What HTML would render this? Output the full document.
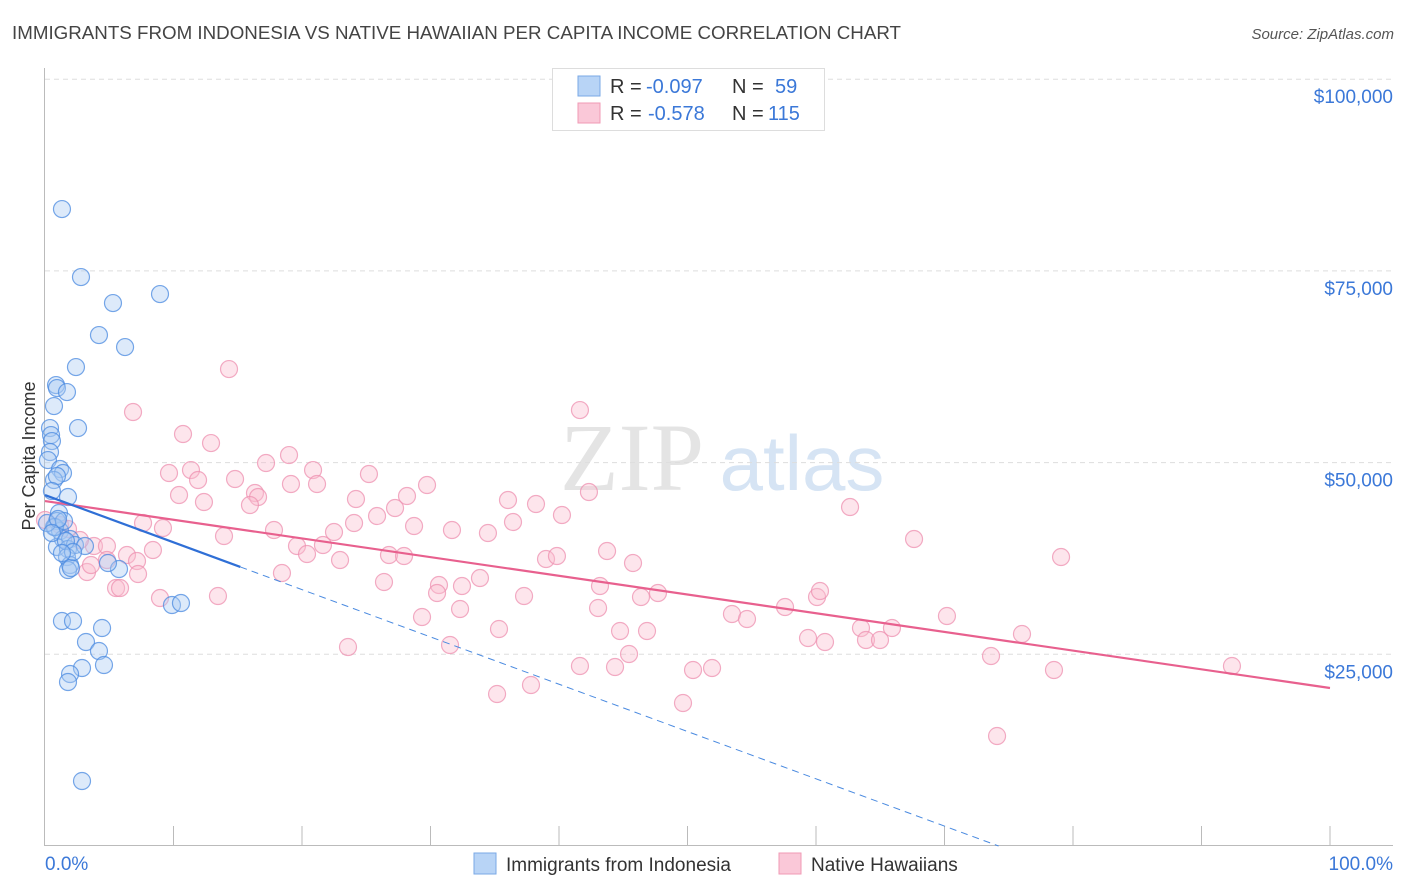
<!DOCTYPE html>
<html><head><meta charset="utf-8"><style>
body{margin:0;background:#fff;font-family:"Liberation Sans",sans-serif;}
svg{display:block}
</style></head><body>
<svg id="chart" width="1406" height="892">
<text x="12" y="39" font-size="18.75" fill="#444">IMMIGRANTS FROM INDONESIA VS NATIVE HAWAIIAN PER CAPITA INCOME CORRELATION CHART</text>
<text x="1394" y="39" font-size="15" fill="#555" font-style="italic" text-anchor="end">Source: ZipAtlas.com</text>
<g>
<text x="632" y="490" font-size="96" fill="#e4e4e4" font-family="Liberation Serif,serif" text-anchor="middle">ZIP</text>
<text x="802" y="490" font-size="78" fill="#d6e4f4" text-anchor="middle">atlas</text>
</g>
<g id="grid"></g>
<g id="axes"></g>
<text x="35" y="456" font-size="18" fill="#333" text-anchor="middle" transform="rotate(-90 35 456)">Per Capita Income</text>
<g id="pink"></g>
<g id="blue"></g>
<g id="lines"></g>
<g>
<rect x="552.5" y="68.5" width="272" height="62" fill="#fff" stroke="#ddd"/>
<rect x="578" y="76" width="22" height="20" fill="#b8d4f6" stroke="#7aa8e6"/>
<rect x="578" y="103" width="22" height="20" fill="#fac8d8" stroke="#f09ab5"/>
<text x="610" y="93" font-size="20" fill="#333">R = <tspan x="646" fill="#3b78d8">-0.097</tspan><tspan x="732">N = </tspan><tspan x="775" fill="#3b78d8">59</tspan></text>
<text x="610" y="120" font-size="20" fill="#333">R = <tspan x="648" fill="#3b78d8">-0.578</tspan><tspan x="732">N = </tspan><tspan x="768" fill="#3b78d8">115</tspan></text>
</g>
<g>
<rect x="474" y="853" width="22" height="21" fill="#b8d4f6" stroke="#7aa8e6"/>
<text x="506" y="871" font-size="19" fill="#333">Immigrants from Indonesia</text>
<rect x="779" y="853" width="22" height="21" fill="#fac8d8" stroke="#f09ab5"/>
<text x="811" y="871" font-size="19" fill="#333">Native Hawaiians</text>
</g>
</svg>
<script>
const blueX=[1.32,2.80,5.29,8.95,4.20,6.23,2.41,0.86,0.93,1.71,0.70,2.57,0.39,0.47,0.54,0.39,0.23,1.17,1.40,0.70,0.93,0.54,1.79,1.09,0.93,0.70,1.17,1.40,1.95,0.93,1.79,2.33,3.11,1.71,1.95,1.79,2.02,5.76,4.90,9.88,10.58,1.32,2.18,4.44,3.19,4.20,4.59,2.88,1.95,1.79,2.88,0.78,0.16,1.48,1.01,0.54,1.63,2.18,1.32];
const blueY=[83065,74198,70807,71981,66634,65070,62462,60114,59723,59202,57376,54507,54507,53594,52812,51378,50334,49161,48639,47726,48248,46292,45510,43423,42380,41598,41076,40033,40033,38990,38729,39250,39120,37686,36642,35990,36251,36121,36903,31426,31687,29340,29340,28427,26602,25428,23602,23211,22429,21386,8476,41598,42119,42380,42641,40815,39772,38338,38207];
const pinkX=[14.32,6.85,10.74,12.92,41.63,9.65,11.36,14.79,17.20,18.99,20.86,25.21,21.17,10.43,12.37,11.91,16.34,16.58,15.95,19.14,24.20,25.84,24.05,27.24,28.17,29.73,28.72,31.67,36.03,38.21,36.42,40.23,42.33,34.47,62.65,67.63,79.07,7.63,9.18,0,1.17,1.79,3.81,4.82,8.40,6.38,7.16,3.27,7.24,5.53,5.84,8.95,13.46,13.93,17.82,19.61,20.39,21.63,22.49,22.96,18.44,26.77,27.94,26.38,30.66,30.51,32.45,33.85,32.30,29.34,35.33,37.28,38.99,39.84,43.74,45.76,43.19,43.04,44.75,46.38,46.85,47.70,45.45,41.63,44.36,35.18,37.82,31.52,23.58,53.46,54.63,57.59,60.08,60.31,59.38,60.70,63.50,63.89,64.98,65.91,70.19,76.03,50.43,51.91,49.65,73.62,74.09,78.52,92.37,3.58,2.72,4.82];
const pinkY=[62201,56594,53725,52551,56854,48639,49030,47857,49943,50986,49030,48509,47205,45770,44858,47726,46031,45510,44466,47205,45249,43032,42119,44075,45640,47074,41728,41206,45118,44597,42250,43162,46162,40815,44206,40033,37686,42119,41467,42510,41858,41337,39120,39120,38598,37946,37164,35730,35469,33643,33643,32339,32600,40424,41206,39120,38077,39250,40946,37294,35599,37946,37816,34426,34034,32991,33904,34947,30905,29862,28297,32600,37425,37816,38468,36903,33904,31035,28036,32470,28036,32991,25037,23472,23342,19821,20994,26210,25950,30253,29601,31166,32470,33252,27123,26602,28427,26862,26862,28427,29992,27645,22950,23211,18647,24776,14344,22950,23472,36642,39902,37294];
const blueTrend=[45770,-15909];
const blueSolidEnd=15.2;
const pinkTrend=[44988,20603];
const yTicks=[25000,50000,75000,100000];
const yTickLabels=["$25,000","$50,000","$75,000","$100,000"];
const xTickLabels=["0.0%","100.0%"];
const NS="http://www.w3.org/2000/svg";
const X0=45,X1=1330,Y0=846,YPX=191.7/25000;
const sx=v=>X0+(X1-X0)*v/100;
const sy=v=>Y0-v*YPX;
function mk(tag,attrs,parent){const e=document.createElementNS(NS,tag);for(const k in attrs)e.setAttribute(k,attrs[k]);parent.appendChild(e);return e;}
const grid=document.getElementById('grid'),axes=document.getElementById('axes');
yTicks.forEach((t,i)=>{
  const l=mk('line',{x1:45,x2:1393,y1:sy(t),y2:sy(t),stroke:'#ddd','stroke-dasharray':'5,4'},grid);
  
  
  const tx=mk('text',{x:1393,y:sy(t)+24,'font-size':19,fill:'#3b78d8','text-anchor':'end'},axes);
  tx.textContent=yTickLabels[i];
  
  
});
mk('line',{x1:44.5,x2:44.5,y1:68,y2:845,stroke:'#bbb'},axes);
mk('line',{x1:44,x2:1393,y1:845.5,y2:845.5,stroke:'#bbb'},axes);
for(let i=1;i<=10;i++){const x=sx(i*10);const t=mk('line',{x1:x,x2:x,y1:826,y2:845,stroke:'#bbb'},axes);
  
  }
[[45,'start',0],[1393,'end',1]].forEach(([x,a,i])=>{const t=mk('text',{x:x,y:870,'font-size':19,fill:'#3b78d8','text-anchor':a},axes);t.textContent=xTickLabels[i];
  
  });
function dots(xs,ys,g,fill,stroke,name){xs.forEach((v,i)=>{const c=mk('circle',{cx:sx(v),cy:sy(ys[i]),r:8.5,fill:fill,'fill-opacity':0.4,stroke:stroke,'stroke-opacity':0.75,'stroke-width':1.2},g);
  
  });}
dots(pinkX,pinkY,document.getElementById('pink'),'#f9bed0','#ee90b0','hawaiian-point');
dots(blueX,blueY,document.getElementById('blue'),'#a9cbf3','#4a8ae0','indonesia-point');
const lg=document.getElementById('lines');
const by=x=>blueTrend[0]+(blueTrend[1]-blueTrend[0])*x/100;
const py=x=>pinkTrend[0]+(pinkTrend[1]-pinkTrend[0])*x/100;
const l1=mk('line',{x1:sx(0),y1:sy(py(0)),x2:sx(100),y2:sy(py(100)),stroke:'#e8608e','stroke-width':2.2},lg);


const l2=mk('line',{x1:sx(0),y1:sy(by(0)),x2:sx(blueSolidEnd),y2:sy(by(blueSolidEnd)),stroke:'#2f6fd6','stroke-width':2.2},lg);


const xEnd=100*(0-blueTrend[0])/(blueTrend[1]-blueTrend[0]);
const l3=mk('line',{x1:sx(blueSolidEnd),y1:sy(by(blueSolidEnd)),x2:sx(xEnd),y2:sy(0),stroke:'#4a8ae0','stroke-width':1,'stroke-dasharray':'7,5'},lg);


</script>
</body></html>
